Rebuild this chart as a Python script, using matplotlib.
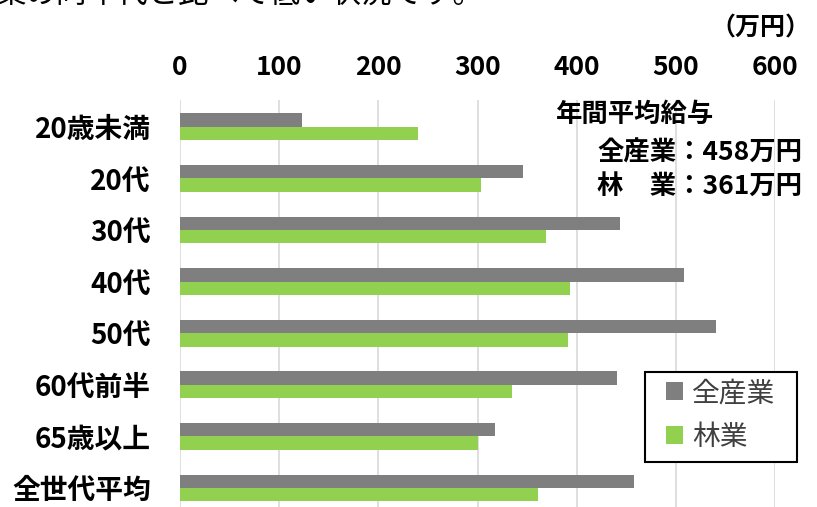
import matplotlib
matplotlib.use("Agg")
import matplotlib.pyplot as plt
import matplotlib.patches as mpatches
import numpy as np

plt.rcParams['font.family'] = ['Noto Sans CJK JP', 'DejaVu Sans']

# ─────────────────────────────────────────────
# DATA (万円)
# ─────────────────────────────────────────────
categories = ["20歳未満", "20代", "30代", "40代", "50代", "60代前半", "65歳以上", "全世代平均"]
all_industry = [123, 346, 444, 508, 541, 441, 318, 458]
forestry     = [240, 304, 369, 393, 391, 335, 301, 361]
x_ticks      = [0, 100, 200, 300, 400, 500, 600]
series_names = ["全産業", "林業"]

GRAY  = "#7f7f7f"
GREEN = "#92d050"

W, H = 817, 507
fig = plt.figure(figsize=(W / 100, H / 100), dpi=100)
ax = fig.add_axes([180 / W, 0, 595 / W, 407 / H])

y = np.arange(len(categories))
bh = 0.26
ax.barh(y - bh / 2, all_industry, height=bh, color=GRAY, label=series_names[0], zorder=3)
ax.barh(y + bh / 2, forestry, height=bh, color=GREEN, label=series_names[1], zorder=3)

ax.set_xlim(0, 600)
ax.set_ylim(7.37, -0.52)
ax.set_yticks(y)
ax.set_yticklabels(categories, fontsize=20, weight="bold")
ax.set_xticks(x_ticks)
ax.set_xticklabels([str(v) for v in x_ticks], fontsize=19, weight="bold")
ax.xaxis.tick_top()
ax.tick_params(axis="x", length=0, pad=14)
ax.tick_params(axis="y", length=0, pad=21)
ax.grid(axis="x", color="#d9d9d9", linewidth=1.2, zorder=0)
for s in ax.spines.values():
    s.set_visible(False)

# unit label
fig.text(810 / W, 1 - 28 / H, "（万円）", fontsize=18, weight="bold",
         ha="right", va="center")

# summary text
fig.text(556 / W, 1 - 114 / H, "年間平均給与", fontsize=19, weight="bold",
         ha="left", va="center")
fig.text(802 / W, 1 - 153 / H, "全産業：458万円", fontsize=19, weight="bold",
         ha="right", va="center")
fig.text(802 / W, 1 - 186 / H, "林　業：361万円", fontsize=19, weight="bold",
         ha="right", va="center")

# clipped sentence at top
fig.text(-4 / W, 1 - 3 / H, "業の同年代と比べて低い状況です。", fontsize=22,
         ha="left", va="baseline")

# legend box drawn separately so its padding matches
box = mpatches.Rectangle((645 / W, 1 - 462 / H), 152 / W, 90 / H,
                         transform=fig.transFigure, facecolor="white",
                         edgecolor="black", linewidth=1.5, zorder=5)
fig.patches.append(box)
leg = fig.legend(loc="center left", bbox_to_anchor=(666 / W, 1 - 415 / H),
                 fontsize=20, frameon=False,
                 handlelength=0.6, handleheight=0.6, handletextpad=0.35,
                 borderpad=0, labelspacing=0.5, borderaxespad=0)
leg.set_zorder(6)
for t in leg.get_texts():
    t.set_color("#404040")

fig.savefig("out.png", dpi=100, facecolor="white")
